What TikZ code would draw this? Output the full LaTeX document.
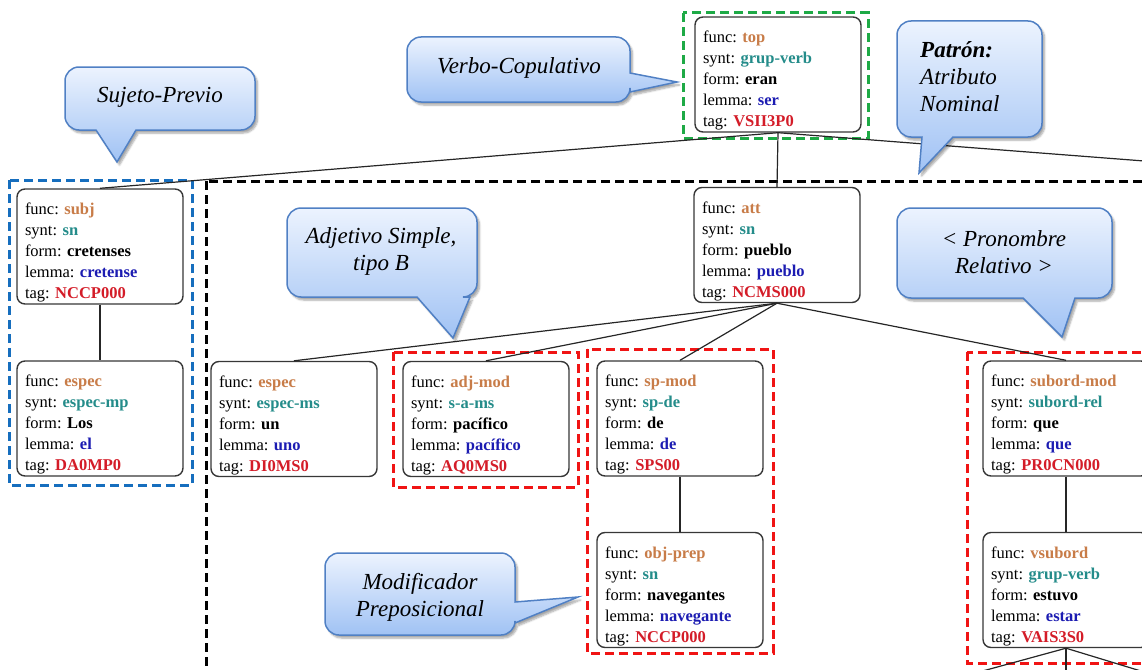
\documentclass[tikz,border=0pt]{standalone}
\usepackage{fontspec}
\setmainfont{Liberation Serif}
\usetikzlibrary{shadows.blur}

\definecolor{cfunc}{RGB}{200,124,72}
\definecolor{csynt}{RGB}{36,140,138}
\definecolor{clemma}{RGB}{28,28,178}
\definecolor{ctag}{RGB}{212,28,40}
\definecolor{boxgray}{RGB}{55,55,55}
\definecolor{grpgreen}{RGB}{30,170,70}
\definecolor{grpblue}{RGB}{22,110,190}
\definecolor{grpred}{RGB}{240,20,20}
\definecolor{bubtop}{RGB}{236,243,254}
\definecolor{bubbot}{RGB}{160,194,244}
\definecolor{bubline}{RGB}{80,128,196}

% one token: function, syntax, form, lemma, tag
\newcommand\tokinfo[5]{\rule{0pt}{24pt}func: \textcolor{cfunc}{\textbf{#1}}\\
synt: \textcolor{csynt}{\textbf{#2}}\\
form: \textbf{#3}\\
lemma: \textcolor{clemma}{\textbf{#4}}\\
tag: \textcolor{ctag}{\textbf{#5}}}

% speech bubble, pointer on the bottom edge:
% x1 y1 x2 y2, pointer base left, pointer base right, tip x, tip y
\newcommand\bubbleB[8]{\path[bubble] (#1+14,#2) -- (#3-14,#2)
  .. controls (#3-6.27,#2) and (#3,#2+6.27) .. (#3,#2+14) -- (#3,#4-14)
  .. controls (#3,#4-6.27) and (#3-6.27,#4) .. (#3-14,#4) -- (#6,#4) -- (#7,#8) -- (#5,#4)
  -- (#1+14,#4) .. controls (#1+6.27,#4) and (#1,#4-6.27) .. (#1,#4-14) -- (#1,#2+14)
  .. controls (#1,#2+6.27) and (#1+6.27,#2) .. (#1+14,#2) -- cycle;}

% speech bubble, pointer on the right edge:
% x1 y1 x2 y2, pointer base top, pointer base bottom, tip x, tip y
\newcommand\bubbleR[8]{\path[bubble] (#1+14,#2) -- (#3-14,#2)
  .. controls (#3-6.27,#2) and (#3,#2+6.27) .. (#3,#2+14) -- (#3,#5) -- (#7,#8) -- (#3,#6)
  -- (#3,#4-14) .. controls (#3,#4-6.27) and (#3-6.27,#4) .. (#3-14,#4)
  -- (#1+14,#4) .. controls (#1+6.27,#4) and (#1,#4-6.27) .. (#1,#4-14) -- (#1,#2+14)
  .. controls (#1,#2+6.27) and (#1+6.27,#2) .. (#1+14,#2) -- cycle;}

\begin{document}
\begin{tikzpicture}[x=1pt,y=-1pt,
  tokbox/.style={draw=boxgray, line width=1.4pt, rounded corners=8pt, fill=white,
    align=left, text width=150pt, inner xsep=8pt, inner ysep=0pt,
    minimum height=115pt, font=\fontsize{16.5}{21}\selectfont\frenchspacing},
  edge/.style={draw=black!85, line width=1.2pt},
  group/.style={line width=3pt, dash pattern=on 9pt off 5pt},
  bubble/.style={draw=bubline, line width=1.5pt, top color=bubtop, bottom color=bubbot,
    blur shadow={shadow xshift=2.5pt, shadow yshift=-3pt, shadow blur steps=6, shadow opacity=35}},
  bubtext/.style={align=center, inner sep=0pt, font=\fontsize{23}{27}\selectfont\itshape}]

\useasboundingbox (0,0) rectangle (1142,669);
\clip (0,0) rectangle (1142,669);

% grouping frames
\draw[group, black] (206,181) rectangle (1170,700);
\draw[group, grpgreen] (683,13) rectangle (868,138);
\draw[group, grpblue] (9,180) rectangle (192,485);
\draw[group, grpred] (393,352) rectangle (578,487);
\draw[group, grpred] (587,349) rectangle (773,653);
\draw[group, grpred] (967,352) rectangle (1170,663);

% tokens
\node[tokbox] (top) at (778,74.5) {\tokinfo{top}{grup-verb}{eran}{ser}{VSII3P0}};
\node[tokbox] (subj) at (100,246.5) {\tokinfo{subj}{sn}{cretenses}{cretense}{NCCP000}};
\node[tokbox] (los) at (100,418.5) {\tokinfo{espec}{espec-mp}{Los}{el}{DA0MP0}};
\node[tokbox] (att) at (777,245) {\tokinfo{att}{sn}{pueblo}{pueblo}{NCMS000}};
\node[tokbox] (un) at (294,419) {\tokinfo{espec}{espec-ms}{un}{uno}{DI0MS0}};
\node[tokbox] (adj) at (486,419) {\tokinfo{adj-mod}{s-a-ms}{pacífico}{pacífico}{AQ0MS0}};
\node[tokbox] (spmod) at (680,418.5) {\tokinfo{sp-mod}{sp-de}{de}{de}{SPS00}};
\node[tokbox] (objprep) at (680,590) {\tokinfo{obj-prep}{sn}{navegantes}{navegante}{NCCP000}};
\node[tokbox] (subord) at (1066,418.5) {\tokinfo{subord-mod}{subord-rel}{que}{que}{PR0CN000}};
\node[tokbox] (vsubord) at (1066,590) {\tokinfo{vsubord}{grup-verb}{estuvo}{estar}{VAIS3S0}};

% loose ends of the tree
\coordinate (offR) at (1170,163);
\coordinate (offA) at (968,675);
\coordinate (offB) at (1066,680);
\coordinate (offC) at (1154,675);

% dependency edges, from border to border
\draw[edge] (top.south) -- (att.north);
\draw[edge] (top.south) -- (subj.north);
\draw[edge] (top.south) -- (offR);
\draw[edge] (subj.south) -- (los.north);
\draw[edge] (att.south) -- (un.north);
\draw[edge] (att.south) -- (adj.north);
\draw[edge] (att.south) -- (spmod.north);
\draw[edge] (att.south) -- (subord.north);
\draw[edge] (spmod.south) -- (objprep.north);
\draw[edge] (subord.south) -- (vsubord.north);
\draw[edge] (vsubord.south) -- (offA);
\draw[edge] (vsubord.south) -- (offB);
\draw[edge] (vsubord.south) -- (offC);

% annotation bubbles
\bubbleR{407}{37}{630}{102}{73}{92}{677}{82}
\node[bubtext] (verbo) at (519,68) {Verbo-Copulativo};

\bubbleB{65}{67}{255}{130}{96}{136}{117}{162}
\node[bubtext] (sujeto) at (160,97) {Sujeto-Previo};

\bubbleB{897}{21}{1042}{137}{922}{953}{919}{173}
\node[bubtext, align=left, anchor=west] (patron) at (920,77) {\textbf{Patrón:}\\Atributo\\Nominal};

\bubbleB{287}{208}{477}{297}{417}{470}{453}{338}
\node[bubtext] (adjsimple) at (381,251) {Adjetivo Simple,\\tipo B};

\bubbleB{897}{208}{1112}{298}{1023}{1075}{1062}{337}
\node[bubtext] (pronrel) at (1004,252) {< Pronombre\\Relativo >};

\bubbleR{325}{553}{515}{635}{602}{623}{578}{597}
\node[bubtext] (modprep) at (420,597) {Modificador\\Preposicional};

\end{tikzpicture}
\end{document}
